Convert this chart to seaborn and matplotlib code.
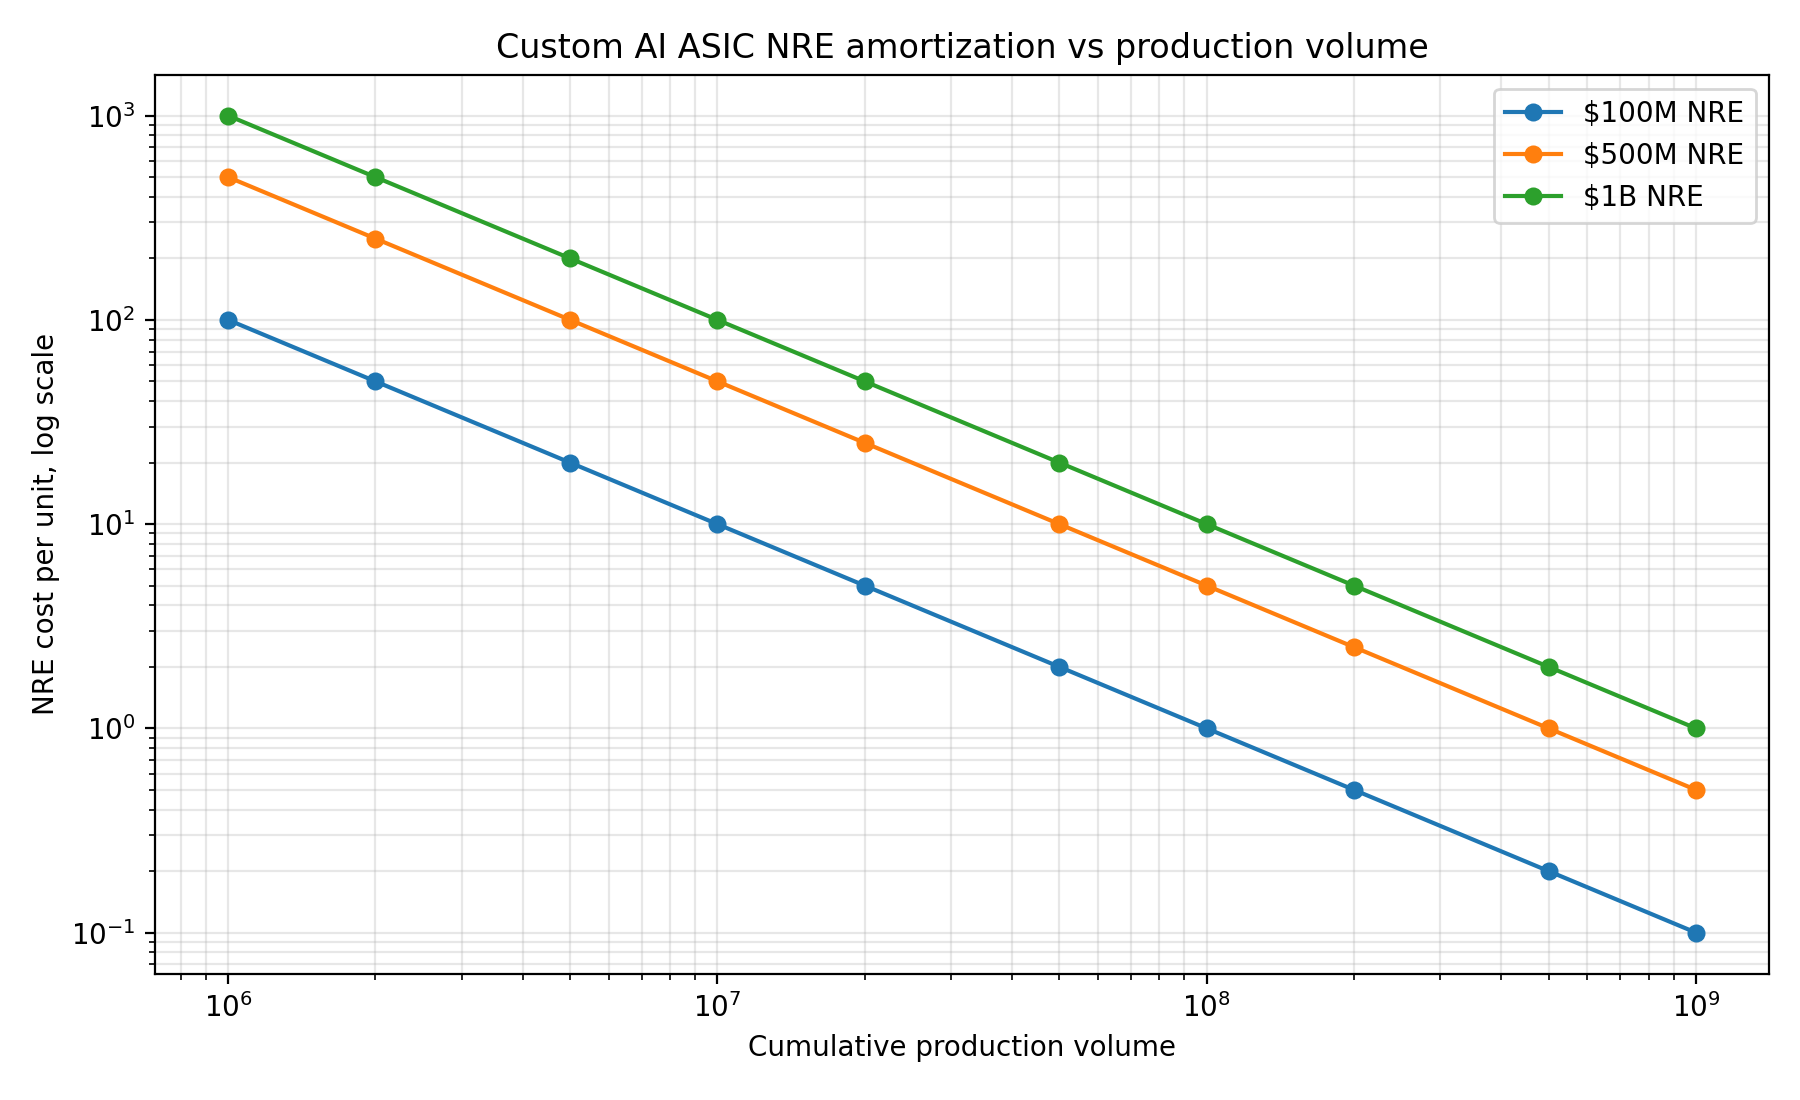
import numpy as np
import pandas as pd
from matplotlib import pyplot as plt
import seaborn as sns

# production volumes (units)
volumes = [1e6, 2e6, 5e6, 1e7, 2e7, 5e7, 1e8, 2e8, 5e8, 1e9]

# NRE cost per unit
nre_100m = [100, 50, 20, 10, 5, 2, 1, 0.5, 0.2, 0.1]
nre_500m = [500, 250, 100, 50, 25, 10, 5, 2.5, 1, 0.5]
nre_1b = [1000, 500, 200, 100, 50, 20, 10, 5, 2, 1]

series_names = ['$100M NRE', '$500M NRE', '$1B NRE']

df = pd.concat([
    pd.DataFrame({'Volume': volumes, 'Cost': nre_100m, 'Series': series_names[0]}),
    pd.DataFrame({'Volume': volumes, 'Cost': nre_500m, 'Series': series_names[1]}),
    pd.DataFrame({'Volume': volumes, 'Cost': nre_1b, 'Series': series_names[2]}),
])

fig, ax = plt.subplots(figsize=(9, 5.5), dpi=200)
sns.lineplot(data=df, x='Volume', y='Cost', hue='Series', marker='o',
             markeredgewidth=0, markersize=6.5, linewidth=1.5,
             palette=['#1f77b4', '#ff7f0e', '#2ca02c'], ax=ax)
ax.set_xscale('log')
ax.set_yscale('log')
ax.grid(True, which='both', alpha=0.3)
ax.set_title('Custom AI ASIC NRE amortization vs production volume')
ax.set_xlabel('Cumulative production volume')
ax.set_ylabel('NRE cost per unit, log scale')
ax.legend(title=None, loc='upper right')

fig.subplots_adjust(left=0.086, right=0.983, top=0.932, bottom=0.115)
plt.savefig('out.png', dpi=200)
